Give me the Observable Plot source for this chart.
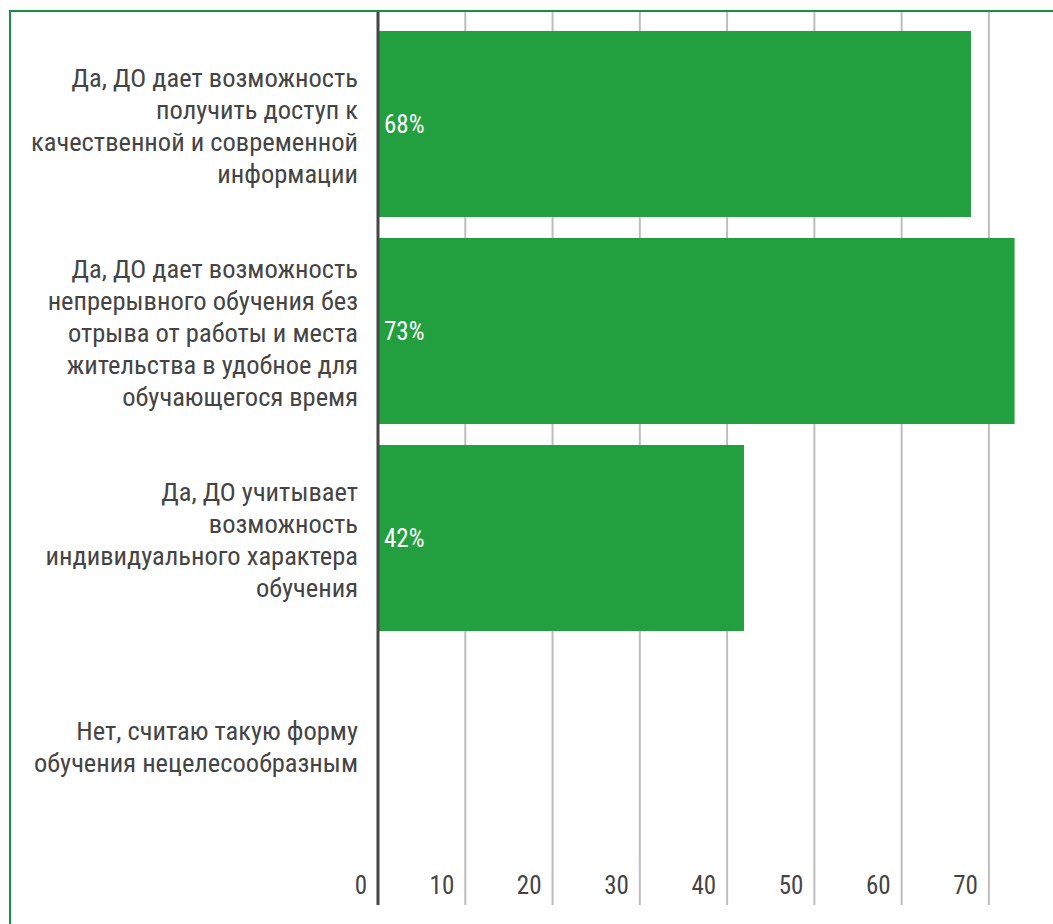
<!DOCTYPE html>
<html>
<head>
<meta charset="utf-8">
<script src="https://cdn.jsdelivr.net/npm/d3@7"></script>
<script src="https://cdn.jsdelivr.net/npm/@observablehq/plot@0.6"></script>
<style>
  html, body { margin: 0; padding: 0; background: #fff; overflow: hidden; }
  #wrap { position: relative; width: 1053px; height: 924px; overflow: hidden; }
  #border { position: absolute; left: 9px; top: 10px; width: 1100px; height: 1000px;
            border: 2px solid #178f4a; box-sizing: border-box; pointer-events: none; }
  #chart { position: absolute; left: 0; top: 0; }
</style>
</head>
<body>
<div id="wrap"><div id="chart"></div><div id="border"></div></div>
<script>
const categories = [
  "Да, ДО дает возможность\nполучить доступ к\nкачественной и современной\nинформации",
  "Да, ДО дает возможность\nнепрерывного обучения без\nотрыва от работы и места\nжительства в удобное для\nобучающегося время",
  "Да, ДО учитывает\nвозможность\nиндивидуального характера\nобучения",
  "Нет, считаю такую форму\nобучения нецелесообразным"
];
const values = [68, 73, 42, 0];
const xTicks = [0, 10, 20, 30, 40, 50, 60, 70];
const gridTicks = [10, 20, 30, 40, 50, 60, 70, 80];

const data = categories.map((c, i) => ({category: c, value: values[i]}));
const font = "'Roboto Condensed', 'Liberation Sans Narrow', 'Roboto', sans-serif";

const chart = Plot.plot({
  width: 1053,
  height: 924,
  marginLeft: 377.5,
  marginRight: 0,
  marginTop: 11,
  marginBottom: 19,
  style: {fontFamily: font, background: "transparent"},
  x: {domain: [0, 77.4], axis: null},
  y: {domain: categories, range: [10, 860], padding: 0.1, axis: null},
  marks: [
    Plot.ruleX(gridTicks, {stroke: "#bdbdbd", strokeWidth: 2}),
    Plot.barX(data.filter(d => d.value > 0), {x: "value", y: "category", fill: "#22a03f"}),
    Plot.ruleX([0], {stroke: "#454545", strokeWidth: 3}),
    Plot.text(data.filter(d => d.value > 0), {
      x: 0, y: "category", text: d => `${d.value}%`, textAnchor: "start", dx: 6,
      fill: "#ffffff", fontSize: 25, fontWeight: "normal"
    }),
    Plot.axisY({
      label: null, tickSize: 0, tickPadding: 20, fontSize: 26.5, lineHeight: 1.21,
      fill: "#444", textAnchor: "end"
    }),
    Plot.text(xTicks, {
      x: d => d, frameAnchor: "bottom", text: d => String(d), textAnchor: "end",
      dx: -11, dy: -20, lineAnchor: "middle", fontSize: 25, fill: "#444"
    })
  ]
});
document.getElementById("chart").appendChild(chart);
</script>
</body>
</html>
